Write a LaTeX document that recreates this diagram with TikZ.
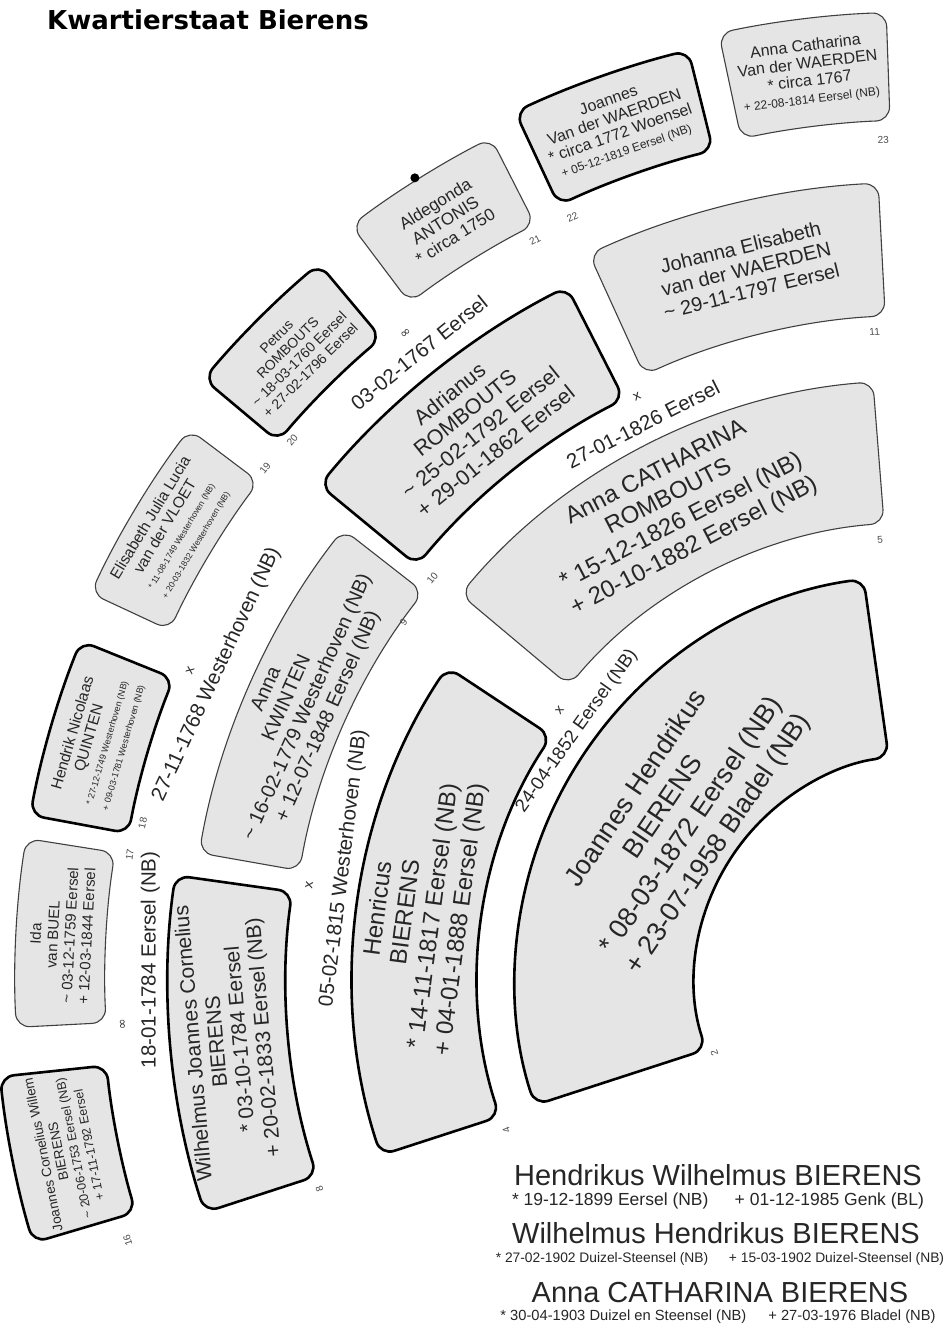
\documentclass[tikz,border=0pt]{standalone}
\usepackage{fontspec}
\setmainfont{Liberation Sans}
\newfontfamily\titlefont{DejaVu Sans}
\newfontfamily\symfont{DejaVu Sans}
\usetikzlibrary{calc}
\definecolor{boxgray}{HTML}{E5E5E5}
\tikzset{
  fanbox/.style={fill=boxgray, rounded corners=14pt},
  thinbox/.style={fanbox, draw=black!75, line width=1.1pt},
  thickbox/.style={fanbox, draw=black, line width=2.6pt},
  fantxt/.style={align=center, inner sep=0pt, text=black!85},
  numlbl/.style={inner sep=0pt, font=\fontsize{10}{10}\selectfont, text=black!70},
  marsym/.style={inner sep=0pt, font=\symfont\fontsize{13}{13}\selectfont, text=black!80},
}
\newcommand\fansector[5]{%
  \path[#1] ($(C)+(#2:#5pt)$) arc[start angle=#2,end angle=#3,radius=#5pt]
     -- ($(C)+(#3:#4pt)$) arc[start angle=#3,end angle=#2,radius=#4pt] -- cycle;}
\newcommand\fantext[6]{%
  \node[fantxt, rotate={#2-90}, font=\fontsize{#4}{#5}\selectfont] (#1) at ($(C)+(#2:#3pt)$) {#6};}
\newcommand\fanlabel[6]{%
  \node[fantxt, rotate={#5}, font=\fontsize{#4}{#4}\selectfont] (#1) at ($(C)+(#2:#3pt)$) {#6};}
\newcommand\fannum[4]{%
  \node[numlbl, rotate={#2-90}] (#1) at ($(C)+(#2:#3pt)$) {#4};}
\newcommand\fansym[4]{%
  \node[marsym, rotate={#2-90}] (#1) at ($(C)+(#2:#3pt)$) {#4};}
\begin{document}
\begin{tikzpicture}
\useasboundingbox (0,0) rectangle (946pt,-1325pt);
\fill[white] (0,0) rectangle (946pt,-1325pt);
\coordinate (C) at (920pt,-980pt);

% title
\node[anchor=base west, inner sep=0pt, font=\titlefont\bfseries\fontsize{26}{26}\selectfont] (title) at (47pt,-29pt) {Kwartierstaat Bierens};

% ring 1
\fansector{thickbox}{98}{198}{225}{405}
% ring 2
\fansector{thickbox}{146.5}{198}{442}{567}
\fansector{thinbox}{94.5}{140}{458}{600}
% ring 3
\fansector{thickbox}{172}{198}{634}{752}
\fansector{thinbox}{142}{170}{630}{732}
\fansector{thickbox}{117}{140.5}{652}{778}
\fansector{thinbox}{93}{114.5}{665}{798}
% ring 4
\fansector{thickbox}{186}{196.5}{818}{925}
\fansector{thinbox}{171}{183}{815}{905}
\fansector{thickbox}{158}{169.5}{805}{905}
\fansector{thinbox}{143}{155}{828}{915}
\fansector{thickbox}{130}{140}{838}{935}
\fansector{thinbox}{117}{127}{848}{945}
\fansector{thickbox}{104}{115}{855}{958}
\fansector{thinbox}{92}{102}{860}{968}

\fill[black] ($(C)+(122.2:948pt)$) circle[radius=4.5pt];

% texts in boxes
\fantext{t2}{146}{292}{27}{33}{Joannes Hendrikus\\BIERENS\\* 08-03-1872 Eersel (NB)\\+ 23-07-1958 Bladel (NB)}
\fantext{t4}{172.5}{504}{24}{27.5}{Henricus\\BIERENS\\* 14-11-1817 Eersel (NB)\\+ 04-01-1888 Eersel (NB)}
\fantext{t5}{117.5}{530}{24}{27.5}{Anna CATHARINA\\ROMBOUTS\\* 15-12-1826 Eersel (NB)\\+ 20-10-1882 Eersel (NB)}
\fantext{t8}{185}{693}{21}{23.5}{Wilhelmus Joannes Cornelius\\BIERENS\\* 03-10-1784 Eersel\\+ 20-02-1833 Eersel (NB)}
\fantext{t9}{156}{681}{20}{22.5}{Anna\\KWINTEN\\\textasciitilde{} 16-02-1779 Westerhoven (NB)\\+ 12-07-1848 Eersel (NB)}
\fantext{t10}{128.75}{715}{21.5}{24.5}{Adrianus\\ROMBOUTS\\\textasciitilde{} 25-02-1792 Eersel\\+ 29-01-1862 Eersel}
\fantext{t11}{103.75}{732}{20}{22.5}{Johanna Elisabeth\\van der WAERDEN\\\textasciitilde{} 29-11-1797 Eersel}
\fantext{t16}{191.25}{871}{13.5}{15.5}{Joannes Cornelius Willem\\BIERENS\\{\fontsize{12.5}{14}\selectfont \textasciitilde{} 20-06-1753 Eersel (NB)}\\{\fontsize{12.5}{14}\selectfont + 17-11-1792 Eersel}}
\fantext{t17}{177}{860}{15}{17}{Ida\\van BUEL\\\textasciitilde{} 03-12-1759 Eersel\\+ 12-03-1844 Eersel}
\fantext{t18}{163.75}{857}{15.5}{17}{Hendrik Nicolaas\\QUINTEN\\{\fontsize{9}{10.5}\selectfont * 27-12-1749 Westerhoven (NB)}\\{\fontsize{9}{10.5}\selectfont + 09-03-1781 Westerhoven (NB)}}
\fantext{t19}{149}{872}{15.5}{17}{Elisabeth Julia Lucia\\van der VLOET\\{\fontsize{8.5}{10}\selectfont * 11-08-1749 Westerhoven (NB)}\\{\fontsize{8.5}{10}\selectfont + 20-03-1832 Westerhoven (NB)}}
\fantext{t20}{135}{886}{14}{16}{Petrus\\ROMBOUTS\\\textasciitilde{} 18-03-1760 Eersel\\+ 27-02-1796 Eersel}
\fantext{t21}{122}{896}{17}{19}{Aldegonda\\ANTONIS\\* circa 1750}
\fantext{t22}{109.5}{906}{16}{17.5}{Joannes\\Van der WAERDEN\\* circa 1772 Woensel\\{\fontsize{12}{13.5}\selectfont + 05-12-1819 Eersel (NB)}}
\fantext{t23}{97}{914}{16}{17.5}{Anna Catharina\\Van der WAERDEN\\* circa 1767\\{\fontsize{12}{13.5}\selectfont + 22-08-1814 Eersel (NB)}}

% box numbers
\fannum{n2}{199.5}{218}{2}
\fannum{n4}{200}{440}{4}
\fannum{n5}{95.2}{442}{5}
\fannum{n8}{199.2}{636}{8}
\fannum{n9}{145.3}{628}{9}
\fannum{n10}{140.5}{632}{10}
\fannum{n11}{94}{650}{11}
\fannum{n16}{198.2}{834}{16}
\fannum{n17}{171}{800}{17}
\fannum{n18}{168.6}{793}{18}
\fannum{n19}{142}{831}{19}
\fannum{n20}{139.3}{828}{20}
\fannum{n21}{117.5}{834}{21}
\fannum{n22}{114.5}{838}{22}
\fannum{n23}{92.5}{841}{23}

% marriages
\fanlabel{m1}{178.5}{770}{20.5}{90}{18-01-1784 Eersel (NB)}
\fansym{s1}{183.2}{798}{∞}
\fanlabel{m2}{169}{587}{20.5}{83}{05-02-1815 Westerhoven (NB)}
\fansym{s2}{171.2}{618}{x}
\fanlabel{m3}{144}{424}{18.5}{54.5}{24-04-1852 Eersel (NB)}
\fansym{s3}{143.2}{450}{x}
\fanlabel{m4}{156.5}{767}{20.5}{65}{27-11-1768 Westerhoven (NB)}
\fansym{s4}{157}{793}{x}
\fanlabel{m5}{128.6}{803}{20.5}{39}{03-02-1767 Eersel}
\fansym{s5}{128.5}{826}{∞}
\fanlabel{m6}{116.5}{621}{20.5}{27}{27-01-1826 Eersel}
\fansym{s6}{115.9}{648}{x}

% children
\node[anchor=base, inner sep=0pt, font=\fontsize{29}{29}\selectfont, text=black!85] (c1) at (718pt,-1185pt) {Hendrikus Wilhelmus BIERENS};
\node[anchor=base, inner sep=0pt, font=\fontsize{17.5}{17.5}\selectfont, text=black!85] (d1) at (718pt,-1205pt) {* 19-12-1899 Eersel (NB)\hspace{1.5em}+ 01-12-1985 Genk (BL)};
\node[anchor=base, inner sep=0pt, font=\fontsize{29}{29}\selectfont, text=black!85] (c2) at (716pt,-1243pt) {Wilhelmus Hendrikus BIERENS};
\node[anchor=base, inner sep=0pt, font=\fontsize{13.8}{13.8}\selectfont, text=black!85] (d2) at (720pt,-1262pt) {* 27-02-1902 Duizel-Steensel (NB)\hspace{1.5em}+ 15-03-1902 Duizel-Steensel (NB)};
\node[anchor=base, inner sep=0pt, font=\fontsize{29}{29}\selectfont, text=black!85] (c3) at (720pt,-1302pt) {Anna CATHARINA BIERENS};
\node[anchor=base, inner sep=0pt, font=\fontsize{14.7}{14.7}\selectfont, text=black!85] (d3) at (718pt,-1320pt) {* 30-04-1903 Duizel en Steensel (NB)\hspace{1.5em}+ 27-03-1976 Bladel (NB)};
\end{tikzpicture}
\end{document}
